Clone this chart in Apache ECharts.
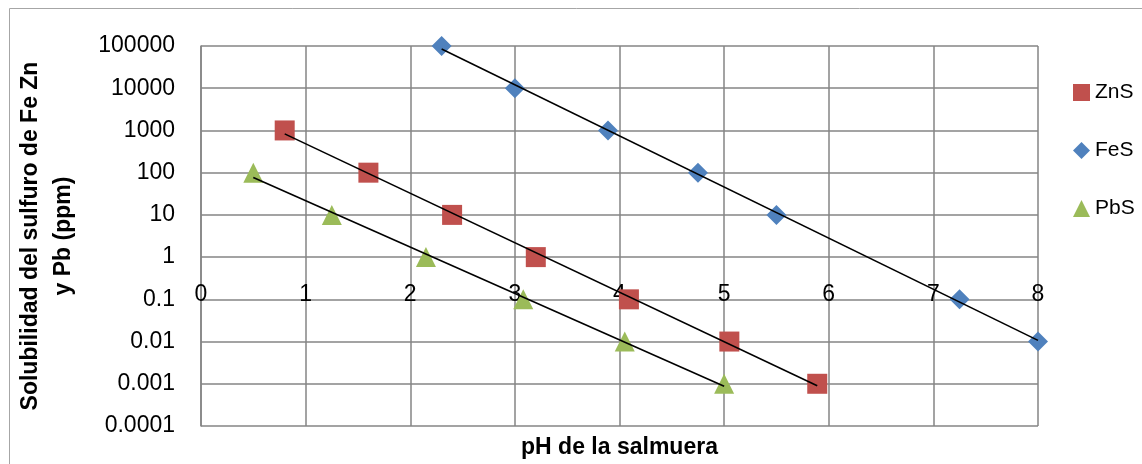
<!DOCTYPE html>
<html><head><meta charset="utf-8">
<script src="https://cdn.jsdelivr.net/npm/echarts@6/dist/echarts.min.js"></script>
<style>html,body{margin:0;padding:0;background:#fff}#c{width:1142px;height:464px}</style>
</head><body><div id="c"></div>
<script>
const seriesNames = ['ZnS', 'FeS', 'PbS'];
const znsX = [0.8, 1.6, 2.4, 3.2, 4.09, 5.05, 5.89];
const znsY = [1000, 100, 10, 1, 0.1, 0.01, 0.001];
const fesX = [2.3, 3.0, 3.89, 4.75, 5.5, 7.25, 8.0];
const fesY = [100000, 10000, 1000, 100, 10, 0.1, 0.01];
const pbsX = [0.5, 1.25, 2.15, 3.08, 4.05, 5.0];
const pbsY = [100, 10, 1, 0.1, 0.01, 0.001];
const yTickLabels = ['0.0001', '0.001', '0.01', '0.1', '1', '10', '100', '1000', '10000', '100000'];
const xTickLabels = ['0', '1', '2', '3', '4', '5', '6', '7', '8'];

const colors = ['#C0504D', '#4F81BD', '#9BBB59'];
const symbols = ['rect', 'diamond', 'triangle'];

function pairs(xs, ys) { return xs.map((x, i) => [x, ys[i]]); }
// exponential trendline (least squares in log10 space), drawn between first and last x
function trend(xs, ys) {
  const n = xs.length;
  const ly = ys.map(v => Math.log10(v));
  const mx = xs.reduce((a, b) => a + b, 0) / n;
  const my = ly.reduce((a, b) => a + b, 0) / n;
  let sxy = 0, sxx = 0;
  for (let i = 0; i < n; i++) { sxy += (xs[i] - mx) * (ly[i] - my); sxx += (xs[i] - mx) * (xs[i] - mx); }
  const b = sxy / sxx, a = my - b * mx;
  const x0 = Math.min(...xs), x1 = Math.max(...xs);
  return [[x0, Math.pow(10, a + b * x0)], [x1, Math.pow(10, a + b * x1)]];
}

const sets = [[znsX, znsY], [fesX, fesY], [pbsX, pbsY]];
const series = [];
sets.forEach((s, i) => {
  series.push({
    name: seriesNames[i], type: 'scatter', data: pairs(s[0], s[1]),
    symbol: symbols[i], symbolSize: i === 1 ? [20, 20] : 20,
    itemStyle: { color: colors[i], opacity: 1 }, z: 2
  });
});
sets.forEach((s) => {
  series.push({
    type: 'line', data: trend(s[0], s[1]), symbol: 'none', silent: true,
    lineStyle: { color: '#000', width: 1.6 }, z: 3
  });
});

const chart = echarts.init(document.getElementById('c'));
chart.setOption({
  animation: false,
  color: colors,
  grid: { left: 201, right: 104, top: 46, bottom: 36, containLabel: false },
  graphic: [{ type: 'rect', shape: { x: 9.5, y: 8.5, width: 1300, height: 600 },
    style: { fill: 'none', stroke: '#a6a6a6', lineWidth: 1 }, silent: true }],
  legend: {
    orient: 'vertical', left: 1068, top: 77, itemGap: 37, itemWidth: 17, itemHeight: 17,
    textStyle: { fontFamily: 'Liberation Sans', fontSize: 21, color: '#000' },
    data: seriesNames.map((n, i) => ({ name: n, icon: symbols[i] }))
  },
  xAxis: {
    type: 'value', min: 0, max: 8, interval: 1,
    name: 'pH de la salmuera', nameLocation: 'middle', nameGap: 10,
    nameTextStyle: { fontFamily: 'Liberation Sans', fontSize: 23, fontWeight: 'bold', color: '#000' },
    axisLine: { show: false }, axisTick: { show: false },
    axisLabel: { margin: -143, fontFamily: 'Liberation Sans', fontSize: 23, color: '#000',
      formatter: v => xTickLabels[Math.round(v)] },
    splitLine: { show: true, lineStyle: { color: '#858585', width: 1.5 } }
  },
  yAxis: {
    type: 'log', logBase: 10, min: 0.0001, max: 100000,
    name: 'Solubilidad del sulfuro de Fe Zn\ny Pb (ppm)', nameLocation: 'middle', nameRotate: 90, nameGap: 121,
    nameTextStyle: { fontFamily: 'Liberation Sans', fontSize: 23, fontWeight: 'bold', color: '#000', lineHeight: 33, align: 'center' },
    axisLine: { show: true, lineStyle: { color: '#858585', width: 1.5 } }, axisTick: { show: false },
    axisLabel: { margin: 26, fontFamily: 'Liberation Sans', fontSize: 23, color: '#000',
      formatter: v => yTickLabels[Math.round(Math.log10(v)) + 4] },
    splitLine: { show: true, lineStyle: { color: '#858585', width: 1.5 } }
  },
  series: series
});
</script></body></html>
